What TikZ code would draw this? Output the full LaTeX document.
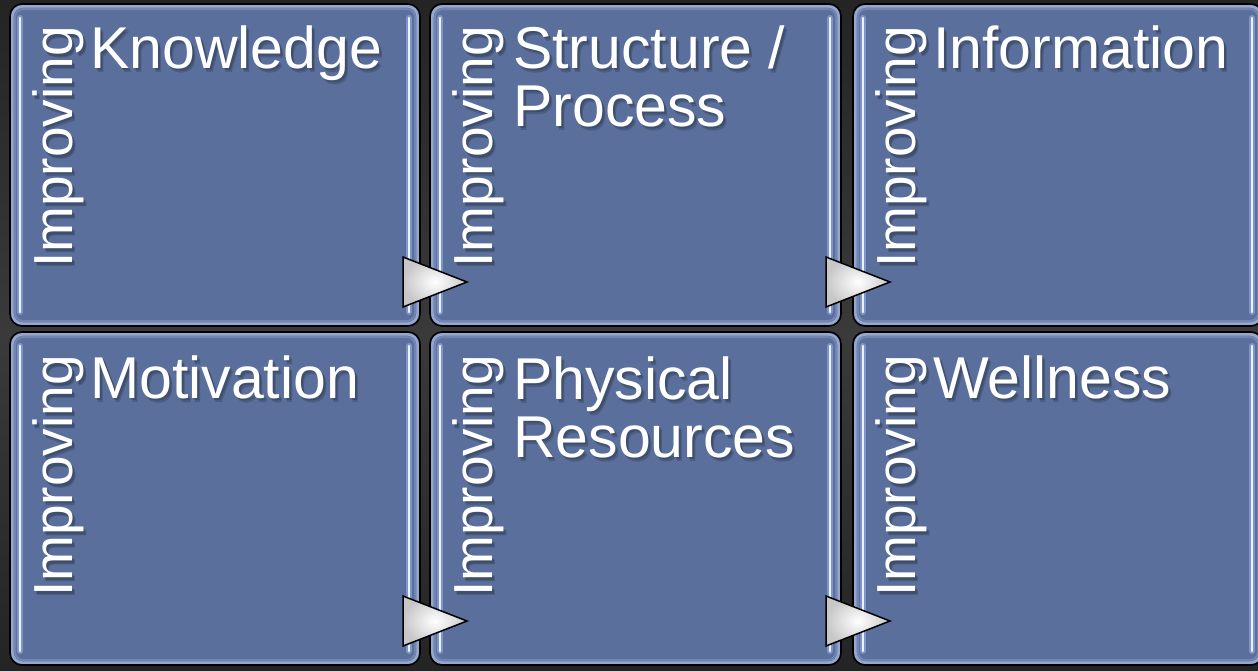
\documentclass[tikz,border=0pt]{standalone}
\usepackage{fontspec}
\setmainfont{Liberation Sans}
\usetikzlibrary{calc}

\definecolor{backdrop}{RGB}{58,58,58}
\definecolor{backdropdark}{RGB}{36,36,36}
\definecolor{panelblue}{RGB}{90,111,156}
\definecolor{bevel}{RGB}{170,186,224}
\definecolor{glowblue}{RGB}{140,166,224}
\definecolor{stripe}{RGB}{236,243,255}

\tikzset{
  panel/.style={rectangle, rounded corners=12, fill=panelblue, draw=black,
    line width=1.6, inner sep=0, outer sep=0, anchor=north west},
  bevelline/.style={draw=bevel, line width=2.6, rounded corners=10, opacity=0.75},
  bevelsoft/.style={draw=bevel, line width=2, rounded corners=8, opacity=0.3},
  glow/.style={draw=glowblue, line width=6, line cap=round, opacity=0.7},
  stripeline/.style={draw=stripe, line width=2.4, line cap=round},
  title/.style={anchor=base west, inner sep=0, text=white,
    font=\fontsize{59}{62}\selectfont},
  side/.style={anchor=base west, inner sep=0, text=white, rotate=90,
    font=\fontsize{55}{58}\selectfont},
  dropshadow/.style={text=black, opacity=0.16},
  chevron/.style={draw=black, line width=1.5, line join=miter,
    inner color=white, outer color=black!22, shading=radial},
}

% text with a soft drop shadow beneath it
\newcommand\ShadowedText[4]{%
  \node[#1, dropshadow] (#2s) at ($#3+(3,4)$) {#4};
  \node[#1, dropshadow] (#2t) at ($#3+(2,2.5)$) {#4};
  \node[#1] (#2) at #3 {#4};
}

\begin{document}
\begin{tikzpicture}[x=1pt, y=-1pt]
  \useasboundingbox (0,0) rectangle (1258,670);
  \shade[top color=backdropdark, bottom color=backdrop] (0,0) rectangle (1258,335);
  \shade[top color=backdrop, bottom color=backdropdark] (0,335) rectangle (1258,670);

  % the six panels
  \node[panel, minimum width=410, minimum height=322] (b1) at (10,4) {};
  \node[panel, minimum width=411, minimum height=322] (b2) at (430,4) {};
  \node[panel, minimum width=410, minimum height=322] (b3) at (853,4) {};
  \node[panel, minimum width=410, minimum height=333] (b4) at (10,332) {};
  \node[panel, minimum width=411, minimum height=333] (b5) at (430,332) {};
  \node[panel, minimum width=410, minimum height=333] (b6) at (853,332) {};

  % bevel and glowing side stripes on each panel
  \foreach \b in {b1,b2,b3,b4,b5,b6} {
    \draw[bevelline] ($(\b.north west)+(2.4,2.4)$) rectangle ($(\b.south east)+(-2.4,-2.4)$);
    \draw[bevelsoft] ($(\b.north west)+(5,5)$) rectangle ($(\b.south east)+(-5,-5)$);
    \draw[glow] ($(\b.north west)+(10,14)$) -- ($(\b.south west)+(10,-14)$);
    \draw[glow] ($(\b.north east)+(-11,14)$) -- ($(\b.south east)+(-11,-14)$);
    \draw[stripeline] ($(\b.north west)+(10,14)$) -- ($(\b.south west)+(10,-14)$);
    \draw[stripeline] ($(\b.north east)+(-11,14)$) -- ($(\b.south east)+(-11,-14)$);
  }

  % vertical labels
  \ShadowedText{side}{s1}{($(b1.north west)+(62,264)$)}{Improving}
  \ShadowedText{side}{s2}{($(b2.north west)+(62,264)$)}{Improving}
  \ShadowedText{side}{s3}{($(b3.north west)+(62,264)$)}{Improving}
  \ShadowedText{side}{s4}{($(b4.north west)+(62,265)$)}{Improving}
  \ShadowedText{side}{s5}{($(b5.north west)+(62,265)$)}{Improving}
  \ShadowedText{side}{s6}{($(b6.north west)+(62,265)$)}{Improving}

  % panel titles
  \ShadowedText{title}{t1}{($(b1.north west)+(80,64)$)}{Knowledge}
  \ShadowedText{title}{t2}{($(b2.north west)+(83,64)$)}{Structure /}
  \ShadowedText{title}{t2b}{($(b2.north west)+(83,122)$)}{Process}
  \ShadowedText{title}{t3}{($(b3.north west)+(80,64)$)}{Information}
  \ShadowedText{title}{t4}{($(b4.north west)+(80,66)$)}{Motivation}
  \ShadowedText{title}{t5}{($(b5.north west)+(83,67)$)}{Physical}
  \ShadowedText{title}{t5b}{($(b5.north west)+(83,125)$)}{Resources}
  \ShadowedText{title}{t6}{($(b6.north west)+(80,66)$)}{Wellness}

  % chevrons leading from each panel to the next
  \foreach \b/\dx in {b1/-17, b2/-15, b4/-17, b5/-15} {
    \path[chevron] ($(\b.south east)+(\dx,-69)$) -- ($(\b.south east)+(\dx+64,-44)$)
      -- ($(\b.south east)+(\dx,-19)$) -- cycle;
  }
\end{tikzpicture}
\end{document}
